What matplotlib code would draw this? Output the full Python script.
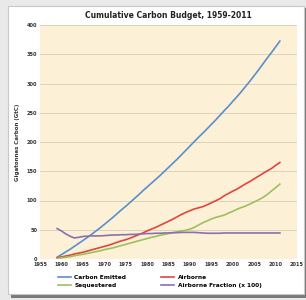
import matplotlib
matplotlib.use('Agg')
import matplotlib.pyplot as plt
from matplotlib.patches import Rectangle

years = list(range(1959, 2012))

carbon_emitted = [3, 7.5, 12, 16.5, 21.5, 26.5, 31.5, 36.5, 42, 47.5,
                  53, 59, 65, 71, 77.5, 84, 90, 96.5, 103, 109.5,
                  116.5, 123, 129.5, 136, 142.5, 149.5, 156.5, 163.5, 170.5, 178,
                  185.5, 193, 200.5, 208, 215, 222.5, 230, 237.5, 245.5, 253.5,
                  261, 269.5, 277.5, 286, 295, 304, 313.5, 323, 333, 343,
                  352.5, 362.5, 372.5]

airborne = [2, 3.5, 5, 6.5, 8.5, 10, 11.5, 13.5, 15.5, 17.5,
            19.5, 21.5, 23.5, 26, 28.5, 31, 33, 35.5, 38.5, 41.5,
            44.5, 48, 51, 54, 57.5, 61, 64.5, 68, 72, 76,
            79.5, 82.5, 85.5, 87.5, 89.5, 92.5, 96, 99.5, 103, 108,
            112, 116, 119.5, 124, 128.5, 132.5, 137, 141.5, 146, 150.5,
            154.5, 160, 165]

sequestered = [1, 2, 3, 4, 5.5, 7, 8, 9.5, 11, 12.5,
               14, 16, 17.5, 19, 21, 23, 25, 27, 29, 31,
               33, 35, 37, 38.5, 40.5, 42, 43.5, 45, 46.5, 48,
               49, 51, 54, 58, 62, 65, 68.5, 71, 73, 75,
               78.5, 81.5, 85, 88, 90.5, 94, 97.5, 101, 105, 110,
               116, 122, 128]

airborne_fraction = [52, 48, 43, 39, 36, 37, 38.5, 39, 39.5, 39.5,
                     39.5, 40, 40.5, 41, 41, 41.5, 41.5, 42, 42, 42.5,
                     43, 43.5, 43.5, 44, 44, 44.5, 44.5, 45, 45, 45.5,
                     45.5, 45.5, 45.5, 45, 44.5, 44, 44, 44, 44, 44.5,
                     44.5, 44.5, 44.5, 44.5, 44.5, 44.5, 44.5, 44.5, 44.5, 44.5,
                     44.5, 44.5, 44.5]

x_ticks = list(range(1955, 2016, 5))
y_ticks = list(range(0, 401, 50))

fig = plt.figure(figsize=(3.06, 3.0), dpi=100, facecolor='#E9E9E9')

# white card with a drop shadow
fig.patches.append(Rectangle((11 / 306, 1 - 298 / 300), 295 / 306, 290 / 300,
                             transform=fig.transFigure, facecolor='#7A7A7A',
                             edgecolor='none', zorder=0))
fig.patches.append(Rectangle((8 / 306, 1 - 294 / 300), 296 / 306, 288 / 300,
                             transform=fig.transFigure, facecolor='white',
                             edgecolor='#C8C8C8', linewidth=0.8, zorder=1))

ax = fig.add_axes([40 / 306, 1 - 259 / 300, 257 / 306, 234 / 300])
ax.set_facecolor('#FCF0D6')
ax.set_zorder(2)

l1, = ax.plot(years, carbon_emitted, color='#5B8FCB', lw=1.2, label='Carbon Emitted')
l2, = ax.plot(years, airborne, color='#E2453D', lw=1.2, label='Airborne')
l3, = ax.plot(years, sequestered, color='#9BC15A', lw=1.2, label='Sequestered')
l4, = ax.plot(years, airborne_fraction, color='#8A70B0', lw=1.2,
              label='Airborne Fraction (x 100)')

ax.set_xlim(1955, 2015)
ax.set_ylim(0, 400)
ax.set_xticks(x_ticks)
ax.set_yticks(y_ticks)
ax.tick_params(labelsize=3.6, length=0, pad=2)
for lab in ax.get_xticklabels() + ax.get_yticklabels():
    lab.set_fontweight('bold')
    lab.set_color('#333333')
ax.yaxis.grid(True, color='#D8CDB5', lw=0.6)
ax.set_axisbelow(True)
for s in ax.spines.values():
    s.set_visible(False)

ax.set_ylabel('Gigatonnes Carbon (GtC)', fontsize=4, fontweight='bold',
              color='#333333', labelpad=5)
ax.set_title('Cumulative Carbon Budget, 1959-2011', fontsize=5.5,
             fontweight='bold', color='#222222', pad=5)

# legend fills column by column, so order for row layout
ax.legend([l1, l3, l2, l4], [l.get_label() for l in (l1, l3, l2, l4)],
          loc='upper left', bbox_to_anchor=(0.05, -0.045), ncol=2,
          frameon=False, handlelength=2.2, columnspacing=6.0,
          handletextpad=0.6, labelspacing=0.5,
          prop={'weight': 'bold', 'size': 4.2})

fig.savefig('out.png', dpi=100, facecolor=fig.get_facecolor())
